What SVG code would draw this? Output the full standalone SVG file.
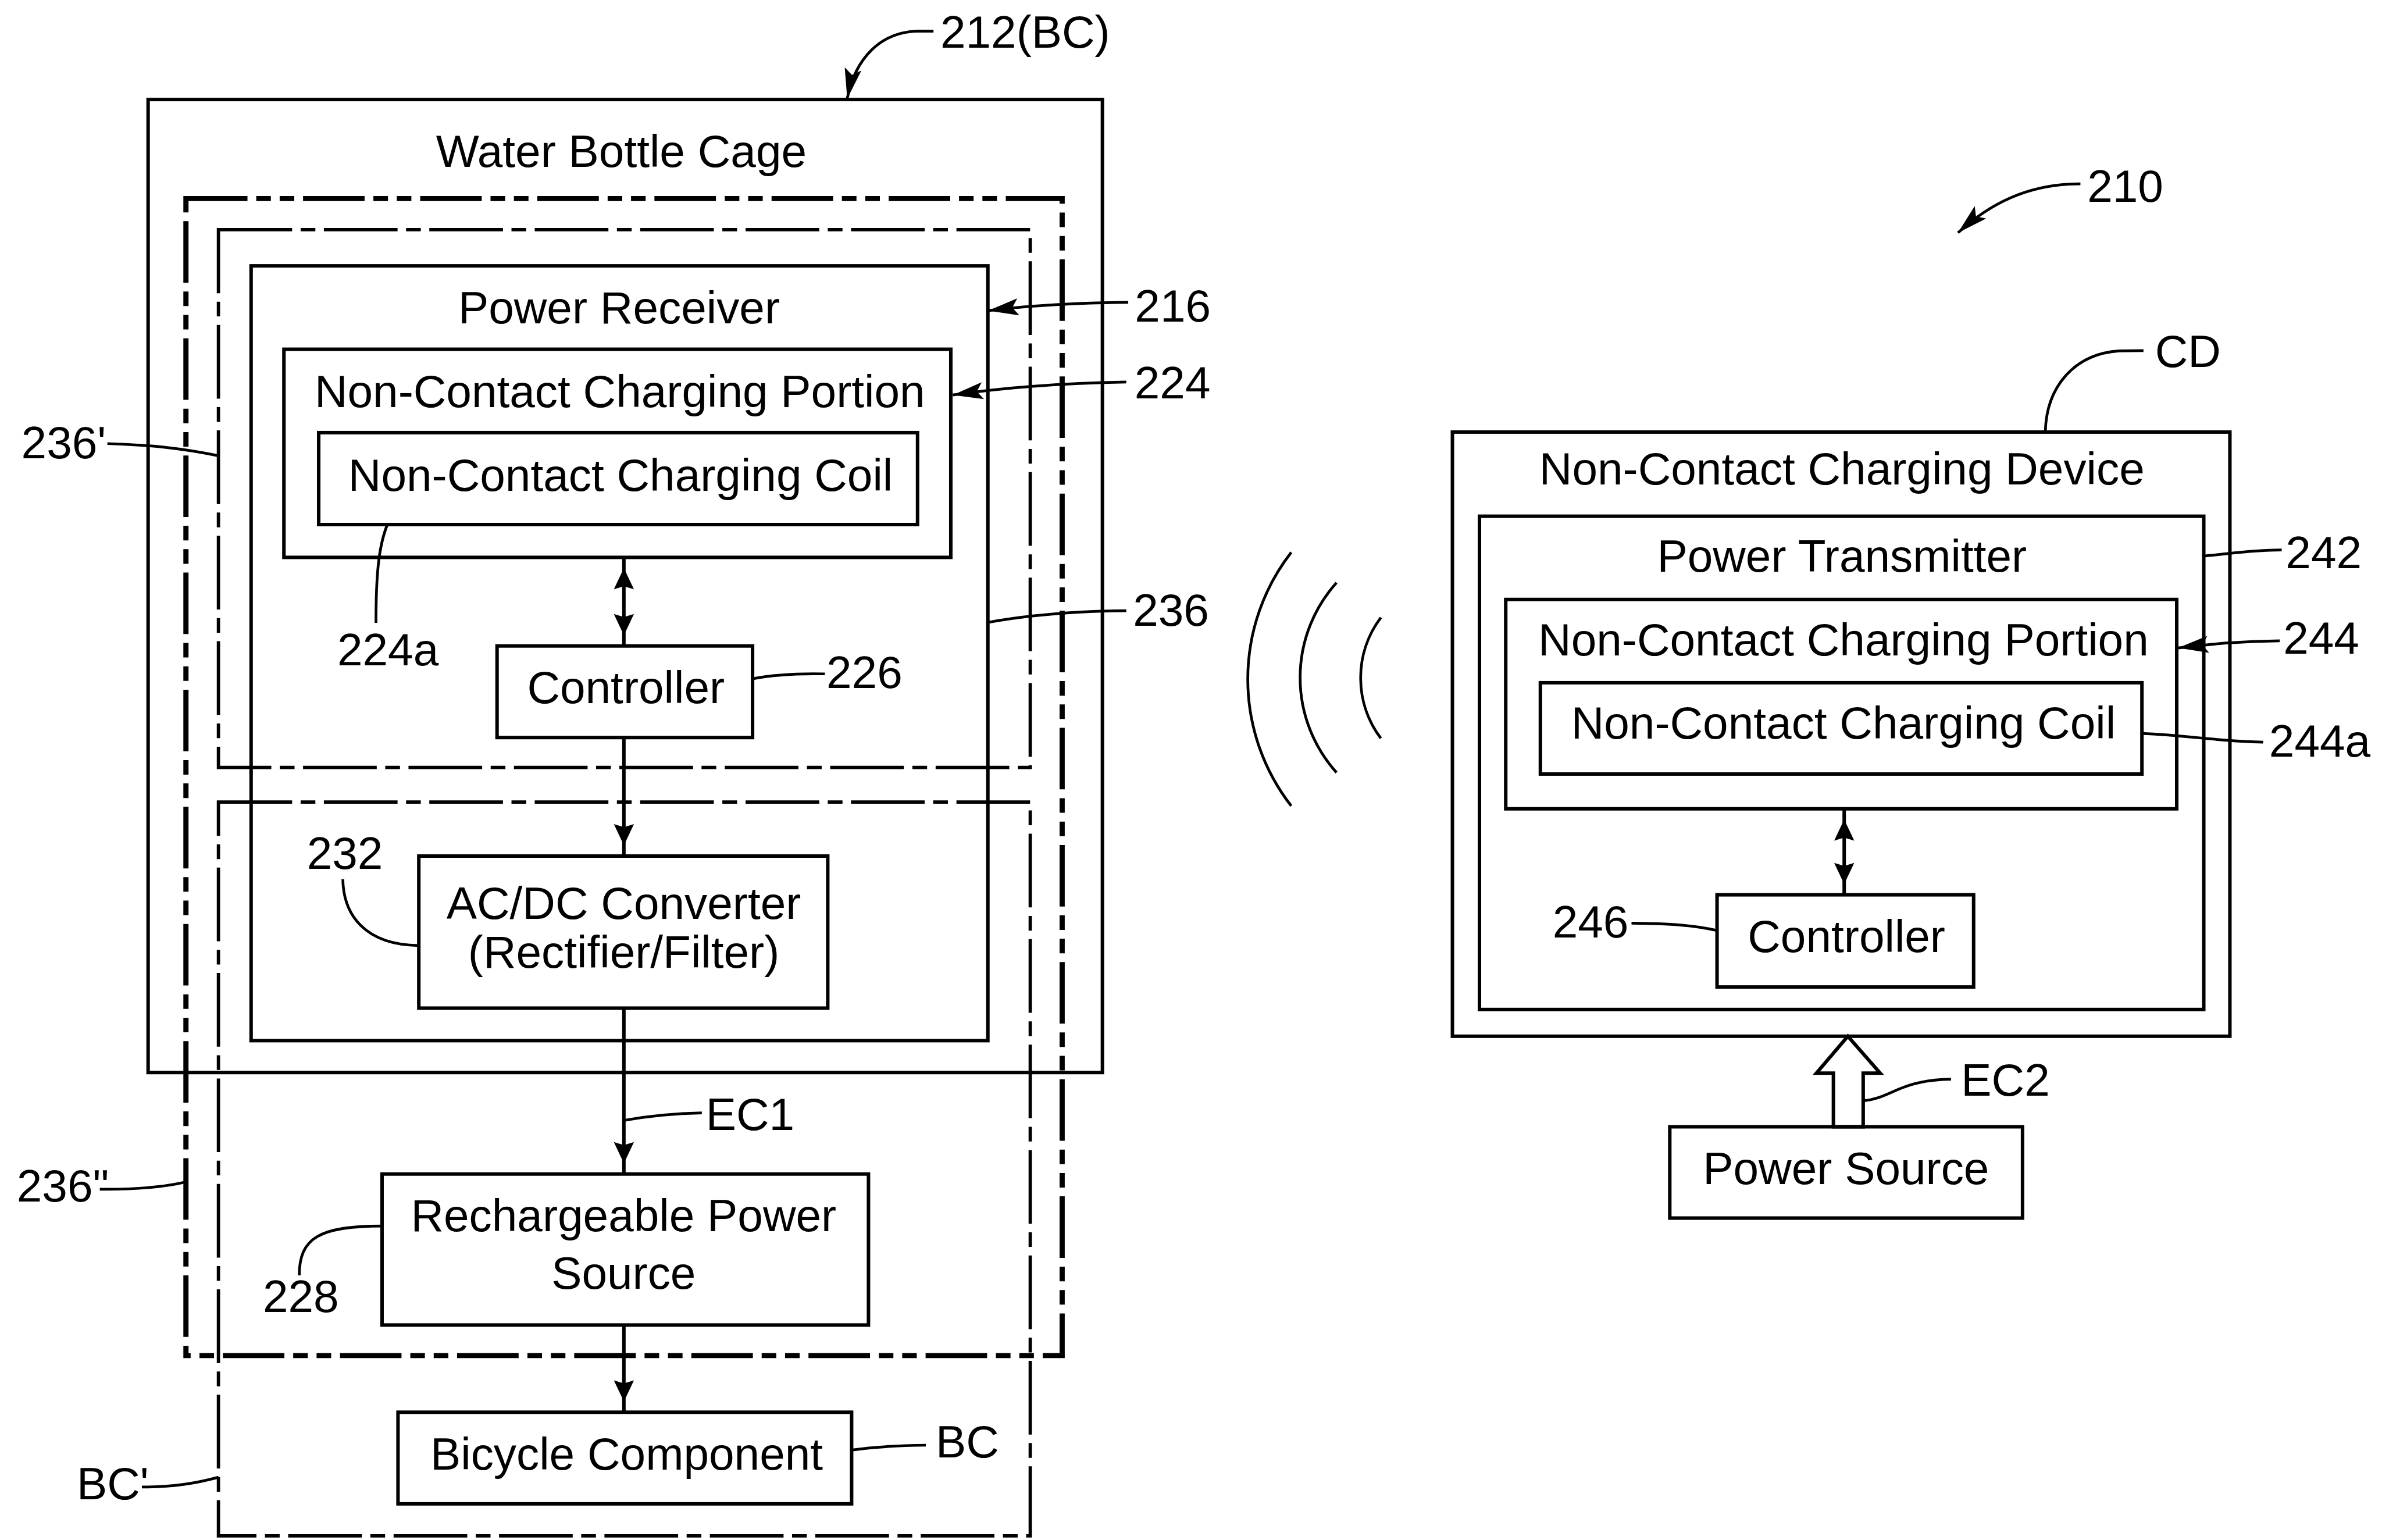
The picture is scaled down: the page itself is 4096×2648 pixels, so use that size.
<svg xmlns="http://www.w3.org/2000/svg" width="4096" height="2648" viewBox="0 0 4096 2648">
<defs>
<style>
.bx{fill:none;stroke:#000;stroke-width:2.3}
.d1{fill:none;stroke:#000;stroke-width:3.4;stroke-dasharray:40.5 5.8 9.6 5.8 9.6 5.8}
.d2{fill:none;stroke:#000;stroke-width:2.2;stroke-dasharray:48.5 5.6 9.7 5.6}
.ln{fill:none;stroke:#000;stroke-width:2.3}
.ld{fill:none;stroke:#000;stroke-width:1.8}
.t{font-family:"Liberation Sans",Arial,Helvetica,sans-serif;font-size:30px;fill:#000;text-anchor:middle}
.l{font-family:"Liberation Sans",Arial,Helvetica,sans-serif;font-size:30px;fill:#000}
</style>
<marker id="ah" markerUnits="userSpaceOnUse" viewBox="0 0 30 14" refX="28" refY="7" markerWidth="30" markerHeight="14" orient="auto-start-reverse">
<path d="M21,7 L7,0.4 L9,7 L7,13.6 Z" fill="#000"/>
</marker>
<marker id="lh" markerUnits="userSpaceOnUse" viewBox="0 0 20 12" refX="20" refY="6" markerWidth="20" markerHeight="12" orient="auto">
<path d="M20,6 L0,0.4 L4,6 L0,11.6 Z" fill="#000"/>
</marker>
</defs>
<rect width="4096" height="2648" fill="#fff"/>
<g transform="scale(2.6122)">
<g id="cage-212">
<rect class="bx" x="97.5" y="65.5" width="628.2" height="640.5"/>
<text class="t" x="409" y="110">Water Bottle Cage</text>
</g>
<g id="region-236pp">
<rect class="d1" x="122.4" y="130.7" width="576.8" height="761.6"/>
</g>
<g id="region-236p">
<rect class="d2" x="143.8" y="151.2" width="534.4" height="354"/>
</g>
<g id="region-BCp">
<rect class="d2" x="143.8" y="528" width="534.4" height="483"/>
</g>
<g id="power-receiver-216">
<rect class="bx" x="165.3" y="175" width="485" height="510"/>
<text class="t" x="407.5" y="213">Power Receiver</text>
</g>
<g id="charging-portion-224">
<rect class="bx" x="186.9" y="229.9" width="439" height="137"/>
<text class="t" x="408" y="268">Non-Contact Charging Portion</text>
</g>
<g id="coil-224a">
<rect class="bx" x="209.8" y="284.8" width="394.2" height="60.5"/>
<text class="t" x="408.5" y="323">Non-Contact Charging Coil</text>
</g>
<g id="controller-226">
<rect class="bx" x="327.2" y="425.2" width="168.2" height="60.3"/>
<text class="t" x="412" y="463">Controller</text>
</g>
<g id="converter-232">
<rect class="bx" x="275.7" y="563.5" width="269.2" height="100.1"/>
<text class="t" x="410.6" y="605">AC/DC Converter</text>
<text class="t" x="410.6" y="637">(Rectifier/Filter)</text>
</g>
<g id="rechargeable-228">
<rect class="bx" x="251.5" y="772.8" width="320.2" height="99.4"/>
<text class="t" x="410.5" y="810.5">Rechargeable Power</text>
<text class="t" x="410.5" y="848.5">Source</text>
</g>
<g id="bicycle-component-BC">
<rect class="bx" x="262" y="929.6" width="298.6" height="60.3"/>
<text class="t" x="412.5" y="967.5">Bicycle Component</text>
</g>
<g id="charging-device-CD">
<rect class="bx" x="956.1" y="284.4" width="511.8" height="397.7"/>
<text class="t" x="1212.5" y="319">Non-Contact Charging Device</text>
</g>
<g id="power-transmitter-242">
<rect class="bx" x="973.9" y="339.8" width="476.8" height="324.7"/>
<text class="t" x="1212.5" y="376.5">Power Transmitter</text>
</g>
<g id="charging-portion-244">
<rect class="bx" x="991.2" y="394.6" width="441.7" height="137.8"/>
<text class="t" x="1213.5" y="431.3">Non-Contact Charging Portion</text>
</g>
<g id="coil-244a">
<rect class="bx" x="1014" y="449.4" width="396" height="60.1"/>
<text class="t" x="1213.5" y="486">Non-Contact Charging Coil</text>
</g>
<g id="controller-246">
<rect class="bx" x="1130.3" y="589" width="168.9" height="60.7"/>
<text class="t" x="1215.5" y="626.8">Controller</text>
</g>
<g id="power-source">
<rect class="bx" x="1099.2" y="741.7" width="232.2" height="60.1"/>
<text class="t" x="1215.2" y="779.4">Power Source</text>
</g>
<g id="waves">
<path class="ld" d="M850,363.6 A136,136 0 0 0 850,530.5"/>
<path class="ld" d="M879.8,383.6 A93.4,93.4 0 0 0 879.8,508.5"/>
<path class="ld" d="M909,406.5 A66,66 0 0 0 909,486"/>
</g>
<g id="connectors">
<line class="ln" x1="410.7" y1="366.9" x2="410.7" y2="425.2" marker-start="url(#ah)" marker-end="url(#ah)"/>
<line class="ln" x1="410.7" y1="485.5" x2="410.7" y2="563.5" marker-end="url(#ah)"/>
<line class="ln" x1="410.7" y1="663.6" x2="410.7" y2="772.8" marker-end="url(#ah)"/>
<line class="ln" x1="410.7" y1="872.2" x2="410.7" y2="929.6" marker-end="url(#ah)"/>
<line class="ln" x1="1214" y1="532.4" x2="1214" y2="589" marker-start="url(#ah)" marker-end="url(#ah)"/>
<polygon class="bx" fill="#fff" points="1206.9,741.7 1206.9,706.4 1195.7,706.4 1216.4,682.1 1237.7,706.4 1226.5,706.4 1226.5,741.7"/>
</g>
<g id="leaders">
<path class="ld" d="M614.5,20.5 L604,20.5 C580,21 563,38 557.7,65" marker-end="url(#lh)"/>
<path class="ld" d="M1369.5,121 C1335,121 1310,134 1288.9,153.2" marker-end="url(#lh)"/>
<path class="ld" d="M742.7,199 Q690,199.5 650.5,204.5" marker-end="url(#lh)"/>
<path class="ld" d="M741.4,251.5 Q680,252.5 627.2,260" marker-end="url(#lh)"/>
<path class="ld" d="M741.4,402 Q690,402.5 650.3,409.7"/>
<path class="ld" d="M543,443.6 Q515,443 495.4,446.8"/>
<path class="ld" d="M247.5,410 C247.5,380 249,360 255,345.3"/>
<path class="ld" d="M70.7,292 C100,293 120,295 143.8,300"/>
<path class="ld" d="M225.7,578.7 C226,602 240,622 275.7,622.4"/>
<path class="ld" d="M462,732.6 C440,733 425,735 410.7,737.5"/>
<path class="ld" d="M65.7,782.8 C90,783 110,781 122.4,778"/>
<path class="ld" d="M197,839.5 C197,815 210,807 251.5,807"/>
<path class="ld" d="M609.5,951.3 C590,951.5 575,952.5 560.6,954.5"/>
<path class="ld" d="M93.4,978.8 C115,979 130,976 143.8,972.4"/>
<path class="ld" d="M1411,230.8 L1395,231 C1365,233 1347,255 1346.4,284.4"/>
<path class="ld" d="M1502,362 C1480,362 1465,365 1450.7,366"/>
<path class="ld" d="M1500.7,421.8 C1475,422 1455,424 1433.8,426.5" marker-end="url(#lh)"/>
<path class="ld" d="M1489.8,488.5 C1460,488 1440,484 1410,482.8"/>
<path class="ld" d="M1074,607.7 C1100,608 1115,609 1130.3,612.5"/>
<path class="ld" d="M1284.3,710.4 C1250,711 1245,723 1226.5,724.6"/>
</g>
<g id="labels">
<text class="l" x="619" y="31.3">212(BC)</text>
<text class="l" x="1374" y="133">210</text>
<text class="l" x="747" y="211.7">216</text>
<text class="l" x="746.8" y="262.3">224</text>
<text class="l" x="745.8" y="412">236</text>
<text class="l" x="544" y="453">226</text>
<text class="l" x="222" y="438">224a</text>
<text class="l" x="14" y="301.6">236'</text>
<text class="l" x="202" y="572">232</text>
<text class="l" x="464.6" y="744">EC1</text>
<text class="l" x="11" y="791">236"</text>
<text class="l" x="173" y="863.8">228</text>
<text class="l" x="616" y="959.4">BC</text>
<text class="l" x="50.5" y="987">BC'</text>
<text class="l" x="1418.6" y="241.6">CD</text>
<text class="l" x="1504.6" y="374">242</text>
<text class="l" x="1503" y="430.3">244</text>
<text class="l" x="1493.7" y="498">244a</text>
<text class="l" x="1022" y="617">246</text>
<text class="l" x="1291" y="721.3">EC2</text>
</g>
</g>
</svg>
